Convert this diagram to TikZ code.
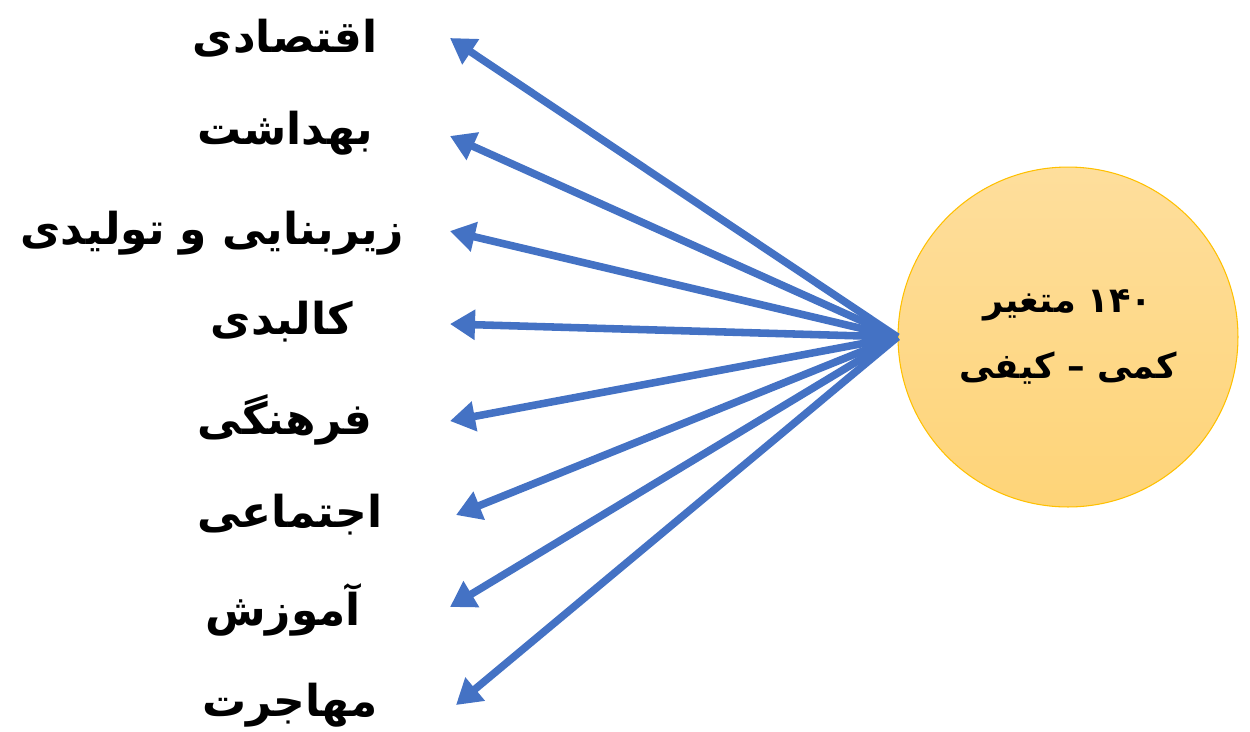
\documentclass[tikz,border=0pt]{standalone}
\usepackage{fontspec}
\usepackage{tikz}
\usetikzlibrary{arrows.meta, positioning}
\newfontfamily\arabicfont[Script=Arabic]{DejaVu Sans}
\TeXXeTstate=1
\definecolor{abiSpoke}{RGB}{68, 114, 196}
\definecolor{zardBala}{RGB}{254, 222, 156}
\definecolor{zardPain}{RGB}{254, 212, 120}
\definecolor{zardLabe}{RGB}{255, 192, 0}

\begin{document}
\begin{tikzpicture}[x=0.02cm, y=-0.02cm,
    factor/.style={font=\arabicfont\bfseries\fontsize{25}{29}\selectfont, inner sep=0pt},
    spoke/.style={abiSpoke, line width=4.3pt, -{Triangle[length=0.5cm, width=0.58cm]}},
    hub/.style={circle, draw=zardLabe, line width=0.6pt, top color=zardBala, bottom color=zardPain,
        minimum size=6.8cm, inner sep=0pt, align=center, font=\arabicfont\bfseries\fontsize{20}{38}\selectfont}]
    \useasboundingbox (0,0) rectangle (1250,731);

    % Central circle
    \node[hub] (hub) at (1068,337) {\beginR ۱۴۰ متغیر\endR\\\beginR کمی – کیفی\endR};

    % Factors (labels)
    \node[factor] (f1) at (285,38) {\beginR اقتصادی\endR};
    \node[factor] (f2) at (285,133) {\beginR بهداشت\endR};
    \node[factor] (f3) at (212,233) {\beginR زیربنایی و تولیدی\endR};
    \node[factor] (f4) at (282,322) {\beginR کالبدی\endR};
    \node[factor] (f5) at (285,420) {\beginR فرهنگی\endR};
    \node[factor] (f6) at (290,515) {\beginR اجتماعی\endR};
    \node[factor] (f7) at (283,610) {\beginR آموزش\endR};
    \node[factor] (f8) at (290,705) {\beginR مهاجرت\endR};

    % Arrow tips
    \coordinate (t1) at (450,38);
    \coordinate (t2) at (450,136);
    \coordinate (t3) at (450,231);
    \coordinate (t4) at (450,324);
    \coordinate (t5) at (450,421);
    \coordinate (t6) at (456,515);
    \coordinate (t7) at (450,607);
    \coordinate (t8) at (456,705);

    % Spokes
    \draw[spoke] (hub.west) -- (t1);
    \draw[spoke] (hub.west) -- (t2);
    \draw[spoke] (hub.west) -- (t3);
    \draw[spoke] (hub.west) -- (t4);
    \draw[spoke] (hub.west) -- (t5);
    \draw[spoke] (hub.west) -- (t6);
    \draw[spoke] (hub.west) -- (t7);
    \draw[spoke] (hub.west) -- (t8);
\end{tikzpicture}
\end{document}
